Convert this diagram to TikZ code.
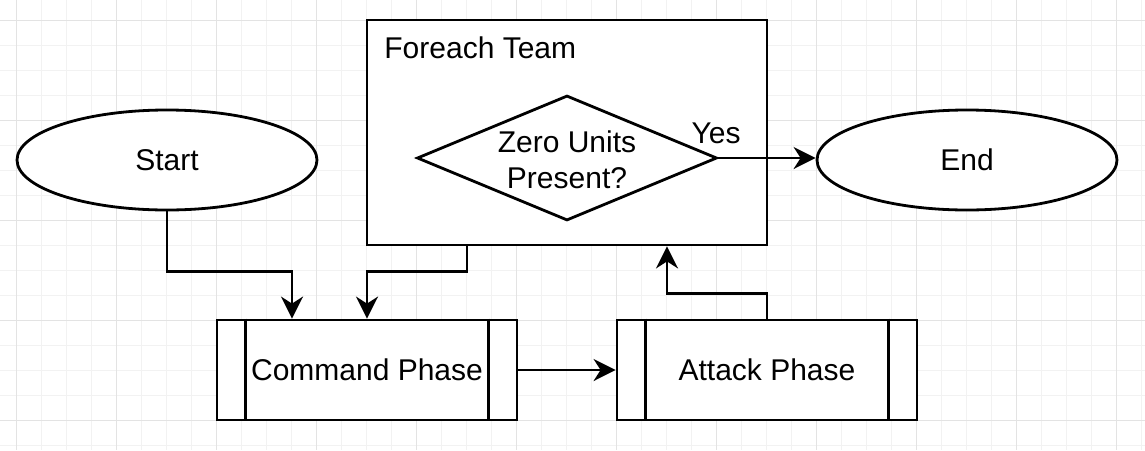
\documentclass[tikz,border=0pt]{standalone}
\usepackage{fontspec}
\setmainfont{Liberation Sans}
\usetikzlibrary{shapes.geometric,arrows.meta}
\begin{document}
\begin{tikzpicture}[x=1pt,y=-1pt,line width=2.8pt,
  every node/.style={font=\fontsize{30}{36}\selectfont},
  minorgrid/.style={line width=1pt,draw=black!5},
  majorgrid/.style={line width=1pt,draw=black!11},
  term/.style={ellipse,draw,fill=white,minimum width=300pt,minimum height=100pt,inner sep=0pt},
  container/.style={rectangle,draw,fill=white,minimum width=400pt,minimum height=225pt,inner sep=0pt},
  decision/.style={diamond,draw,fill=white,aspect=2.4,minimum width=300pt,minimum height=125pt,inner sep=0pt},
  proc/.style={rectangle,draw,fill=white,minimum width=300pt,minimum height=100pt,inner sep=0pt},
  arr/.style={-{Stealth[length=22pt,width=22pt,inset=7pt]}}]
\fill[white] (0,0) rectangle (1145,450);
\useasboundingbox (0,0) rectangle (1145,450);
% grid
\foreach \i in {0,...,45} \draw[minorgrid] ({16.7+25*\i},0) -- ({16.7+25*\i},450);
\foreach \j in {0,...,18} \draw[minorgrid] (0,{-5+25*\j}) -- (1145,{-5+25*\j});
\foreach \i in {0,...,11} \draw[majorgrid] ({16.7+100*\i},0) -- ({16.7+100*\i},450);
\foreach \j in {0,...,4} \draw[majorgrid] (0,{20+100*\j}) -- (1145,{20+100*\j});
% nodes
\node[term] (start) at (167,160) {Start};
\node[term] (end) at (967,160) {End};
\node[container] (team) at (567,132.5) {};
\node[anchor=base west,inner sep=0pt] (teamlabel) at (383,58) {Foreach Team};
\node[decision] (dec) at (567,158) {};
\node[align=center,inner sep=0pt] (dectext) at (567,160) {Zero Units\\Present?};
\node[proc] (cmd) at (367,370) {Command Phase};
\draw ([xshift=30pt]cmd.north west) -- ([xshift=30pt]cmd.south west);
\draw ([xshift=-30pt]cmd.north east) -- ([xshift=-30pt]cmd.south east);
\node[proc] (atk) at (767,370) {Attack Phase};
\draw ([xshift=30pt]atk.north west) -- ([xshift=30pt]atk.south west);
\draw ([xshift=-30pt]atk.north east) -- ([xshift=-30pt]atk.south east);
\node[inner sep=0pt] (yes) at (716,133) {Yes};
% connectors
\draw[arr] (start.south) -- ++(0,60) -| ([xshift=-75pt]cmd.north);
\draw[arr] ([xshift=-100pt]team.south) -- ++(0,25) -| (cmd.north);
\draw[arr] (cmd.east) -- (atk.west);
\draw[arr] (atk.north) -- ++(0,-25) -| ([xshift=100pt]team.south);
\draw[arr] (dec.east) -- (dec.east -| end.west);
\end{tikzpicture}
\end{document}
